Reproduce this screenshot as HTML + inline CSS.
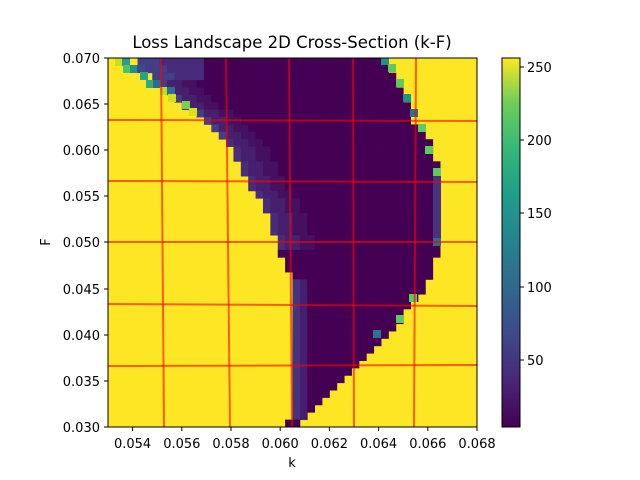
<!DOCTYPE html>
<html><head><meta charset="utf-8"><style>
body{margin:0;background:#fff;}
svg{display:block;font-family:"DejaVu Sans","Liberation Sans",sans-serif;}
</style></head><body>
<svg id="s" width="640" height="480" viewBox="0 0 640 480" xmlns="http://www.w3.org/2000/svg">
<defs>
<linearGradient id="vir" x1="0" y1="1" x2="0" y2="0">
<stop offset="0" stop-color="#440154"/>
<stop offset="0.13" stop-color="#482878"/>
<stop offset="0.25" stop-color="#3e4989"/>
<stop offset="0.38" stop-color="#31688e"/>
<stop offset="0.5" stop-color="#26828e"/>
<stop offset="0.63" stop-color="#1f9e89"/>
<stop offset="0.75" stop-color="#35b779"/>
<stop offset="0.88" stop-color="#6ece58"/>
<stop offset="1" stop-color="#fde725"/>
</linearGradient>
<clipPath id="pc"><rect x="108" y="58" width="369" height="369"/></clipPath>
</defs>
<text x="292" y="48" font-size="16.5" text-anchor="middle">Loss Landscape 2D Cross-Section (k-F)</text>
<g clip-path="url(#pc)">
<rect x="108" y="58" width="369" height="369" fill="#fde725"/>
<g id="cells"></g>
<g id="acc">
<rect x="115" y="58" width="8" height="8" fill="#c8e020"/>
<rect x="122" y="58" width="8" height="8" fill="#2a9a8a"/>
<rect x="123" y="65" width="8" height="8" fill="#4cc26c"/>
<rect x="130" y="65" width="8" height="8" fill="#21918c"/>
<rect x="137" y="65" width="8" height="8" fill="#3e4989"/>
<rect x="140" y="72" width="8" height="8" fill="#22a785"/>
<rect x="146" y="80" width="8" height="8" fill="#2ab07f"/>
<rect x="153" y="80" width="8" height="8" fill="#31688e"/>
<rect x="160" y="87" width="8" height="8" fill="#bade28"/>
<rect x="167" y="87" width="8" height="8" fill="#2c728e"/>
<rect x="168" y="94" width="8" height="8" fill="#d0e11c"/>
<rect x="182" y="101" width="8" height="8" fill="#7ad151"/>
<rect x="189" y="108" width="8" height="8" fill="#d8e219"/>
<rect x="381" y="58" width="8" height="7" fill="#21918c"/>
<rect x="388" y="64" width="8" height="8" fill="#5ec962"/>
<rect x="396" y="79" width="8" height="8" fill="#5ec962"/>
<rect x="403" y="94" width="8" height="8" fill="#21918c"/>
<rect x="410" y="109" width="8" height="8" fill="#2c728e"/>
<rect x="418" y="124" width="8" height="8" fill="#5ec962"/>
<rect x="425" y="146" width="8" height="8" fill="#5ec962"/>
<rect x="433" y="168" width="8" height="8" fill="#5ec962"/>
<rect x="433" y="176" width="8" height="62" fill="#46337e"/>
<rect x="433" y="238" width="8" height="8" fill="#31688e"/>
<rect x="409" y="294" width="8" height="8" fill="#5ec962"/>
<rect x="396" y="315" width="8" height="8" fill="#5ec962"/>
<rect x="373" y="330" width="8" height="8" fill="#2c728e"/>
</g>
<g stroke="#ff0000" stroke-opacity="0.6" stroke-width="2">
<line x1="161" y1="58" x2="164" y2="427"/>
<line x1="226" y1="58" x2="230" y2="427"/>
<line x1="289" y1="58" x2="292" y2="427"/>
<line x1="353" y1="58" x2="354" y2="427"/>
<line x1="416" y1="58" x2="414" y2="427"/>
<line x1="108" y1="120" x2="477" y2="121"/>
<line x1="108" y1="181" x2="477" y2="182"/>
<line x1="108" y1="242" x2="477" y2="242"/>
<line x1="108" y1="304" x2="477" y2="306"/>
<line x1="108" y1="366" x2="477" y2="365"/>
</g>
</g>
<rect x="108" y="58" width="369" height="369" fill="none" stroke="#000" stroke-width="1"/>
<g stroke="#000" stroke-width="1">
<line x1="132.6" y1="427" x2="132.6" y2="431"/><line x1="181.8" y1="427" x2="181.8" y2="431"/><line x1="231" y1="427" x2="231" y2="431"/><line x1="280.2" y1="427" x2="280.2" y2="431"/><line x1="329.4" y1="427" x2="329.4" y2="431"/><line x1="378.6" y1="427" x2="378.6" y2="431"/><line x1="427.8" y1="427" x2="427.8" y2="431"/><line x1="477" y1="427" x2="477" y2="431"/>
<line x1="104" y1="58" x2="108" y2="58"/><line x1="104" y1="104" x2="108" y2="104"/><line x1="104" y1="150" x2="108" y2="150"/><line x1="104" y1="196" x2="108" y2="196"/><line x1="104" y1="242" x2="108" y2="242"/><line x1="104" y1="289" x2="108" y2="289"/><line x1="104" y1="335" x2="108" y2="335"/><line x1="104" y1="381" x2="108" y2="381"/><line x1="104" y1="427" x2="108" y2="427"/>
</g>
<g font-size="13" text-anchor="middle">
<text x="132.6" y="448">0.054</text><text x="181.8" y="448">0.056</text><text x="231" y="448">0.058</text><text x="280.2" y="448">0.060</text><text x="329.4" y="448">0.062</text><text x="378.6" y="448">0.064</text><text x="427.8" y="448">0.066</text><text x="477" y="448">0.068</text>
</g>
<g font-size="13" text-anchor="end">
<text x="100" y="63">0.070</text><text x="100" y="109">0.065</text><text x="100" y="155">0.060</text><text x="100" y="201">0.055</text><text x="100" y="247">0.050</text><text x="100" y="294">0.045</text><text x="100" y="340">0.040</text><text x="100" y="386">0.035</text><text x="100" y="432">0.030</text>
</g>
<text x="292" y="467" font-size="13" text-anchor="middle">k</text>
<text x="50" y="242" font-size="13" text-anchor="middle" transform="rotate(-90 50 242)">F</text>
<rect x="502" y="58" width="18" height="369" fill="url(#vir)"/>
<rect x="502" y="58" width="18" height="369" fill="none" stroke="#000" stroke-width="1"/>
<g stroke="#000"><line x1="520" y1="67" x2="524" y2="67"/><line x1="520" y1="140" x2="524" y2="140"/><line x1="520" y1="213" x2="524" y2="213"/><line x1="520" y1="287" x2="524" y2="287"/><line x1="520" y1="360" x2="524" y2="360"/></g>
<g font-size="13"><text x="527" y="72">250</text><text x="527" y="145">200</text><text x="527" y="218">150</text><text x="527" y="292">100</text><text x="527" y="365">50</text></g>
</svg>
<script>
(function(){
var L=[[58,130],[100,175],[130,217],[150,233],[185,250],[215,270],[245,277],[265,285],[280,292],[420,292],[427,285]];
var R=[[58,383],[80,397],[100,405],[120,413],[130,425],[150,433],[167,440],[245,440],[270,433],[285,427],[295,420],[307,410],[320,400],[333,387],[347,373],[360,360],[380,343],[393,330],[407,315],[420,300],[427,298]];
function itp(P,y){if(y<=P[0][0])return P[0][1];for(var i=1;i<P.length;i++){if(y<=P[i][0]){var a=P[i-1],b=P[i],t=(y-a[0])/(b[0]-a[0]);return a[1]+t*(b[1]-a[1]);}}return P[P.length-1][1];}
var c=7.38,g=document.getElementById('cells'),h='';
for(var r=0;r<50;r++){var yc=58+(r+0.5)*c;var l=Math.round((itp(L,yc)-108)/c),rr=Math.round((itp(R,yc)-108)/c);
 for(var k=l;k<rr;k++){var col='#440154';var d=k-l;
  if(yc<250){ if(d<1)col=(yc<140?'#433e85':'#472d7b'); else if(d<3)col='#471f6f'; else if(d<5)col='#45105f';}
  if(yc>280&&yc<420&&k>=25&&k<27)col=(k==25?'#46327e':'#461e6d');
  if(r<3&&k<13)col=(d<3?'#433e85':'#472a79');
  h+='<rect x="'+(108+k*c).toFixed(2)+'" y="'+(58+r*c).toFixed(2)+'" width="'+(c+0.4).toFixed(2)+'" height="'+(c+0.4).toFixed(2)+'" fill="'+col+'"/>';}
}
g.innerHTML=h;
})();
</script>
</body></html>
